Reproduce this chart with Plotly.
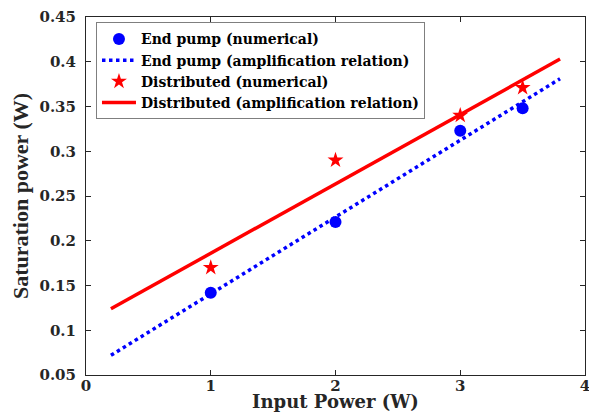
import plotly.graph_objects as go

# Data
end_x = [1, 2, 3, 3.5]
end_y = [0.142, 0.221, 0.323, 0.348]
dist_x = [1, 2, 3, 3.5]
dist_y = [0.170, 0.290, 0.340, 0.371]
fit_x = [0.2, 3.8]
end_fit_y = [0.072, 0.381]
dist_fit_y = [0.124, 0.403]

x_ticks = [0, 1, 2, 3, 4]
y_ticks = [0.05, 0.1, 0.15, 0.2, 0.25, 0.3, 0.35, 0.4, 0.45]

WIDE = "DejaVu Serif, serif"
NARROW = "Liberation Serif, Times New Roman, serif"

fig = go.Figure()
fig.add_trace(go.Scatter(x=end_x, y=end_y, mode="markers", name="End pump (numerical)",
                         marker=dict(symbol="circle", size=12, color="#0000ff")))
fig.add_trace(go.Scatter(x=fit_x, y=end_fit_y, mode="lines", name="End pump (amplification relation)",
                         line=dict(color="#0000ff", width=3.5, dash="dot")))
fig.add_trace(go.Scatter(x=dist_x, y=dist_y, mode="markers", name="Distributed (numerical)",
                         marker=dict(symbol="star", size=12, color="#ff0000")))
fig.add_trace(go.Scatter(x=fit_x, y=dist_fit_y, mode="lines", name="Distributed (amplification relation)",
                         line=dict(color="#ff0000", width=3.5)))

axis_common = dict(showline=True, linecolor="#262626", linewidth=1, mirror="ticks",
                   ticks="inside", ticklen=5, tickcolor="#262626", showgrid=False, zeroline=False,
                   automargin=False, ticklabeloverflow="allow",
                   tickfont=dict(family=WIDE, size=15, color="#262626", weight="bold"))

fig.update_layout(
    width=589, height=412,
    margin=dict(l=86, r=4, t=17, b=37),
    paper_bgcolor="white", plot_bgcolor="white",
    font=dict(family=WIDE, color="#262626", weight="bold"),
    showlegend=True,
    legend=dict(x=0.02, y=0.985, xanchor="left", yanchor="top",
                bgcolor="white", bordercolor="#7f7f7f", borderwidth=1,
                font=dict(family=WIDE, size=14, color="#000000", weight="bold"),
                tracegroupgap=0, itemwidth=34),
    xaxis=dict(range=[0, 4], tickvals=x_ticks, ticktext=[str(v) for v in x_ticks],
               ticklabelstandoff=-3,
               title=dict(text="Input Power (W)", font=dict(family=WIDE, size=18, color="#262626", weight="bold"),
                          standoff=14),
               **axis_common),
    yaxis=dict(range=[0.05, 0.45], tickvals=y_ticks, ticktext=[("%g" % v) for v in y_ticks],
               ticklabelstandoff=6,
               title=dict(text="Saturation power (W)", font=dict(family=NARROW, size=22, color="#262626", weight="bold"),
                          standoff=4),
               **axis_common),
)

fig.write_html("out.html")
